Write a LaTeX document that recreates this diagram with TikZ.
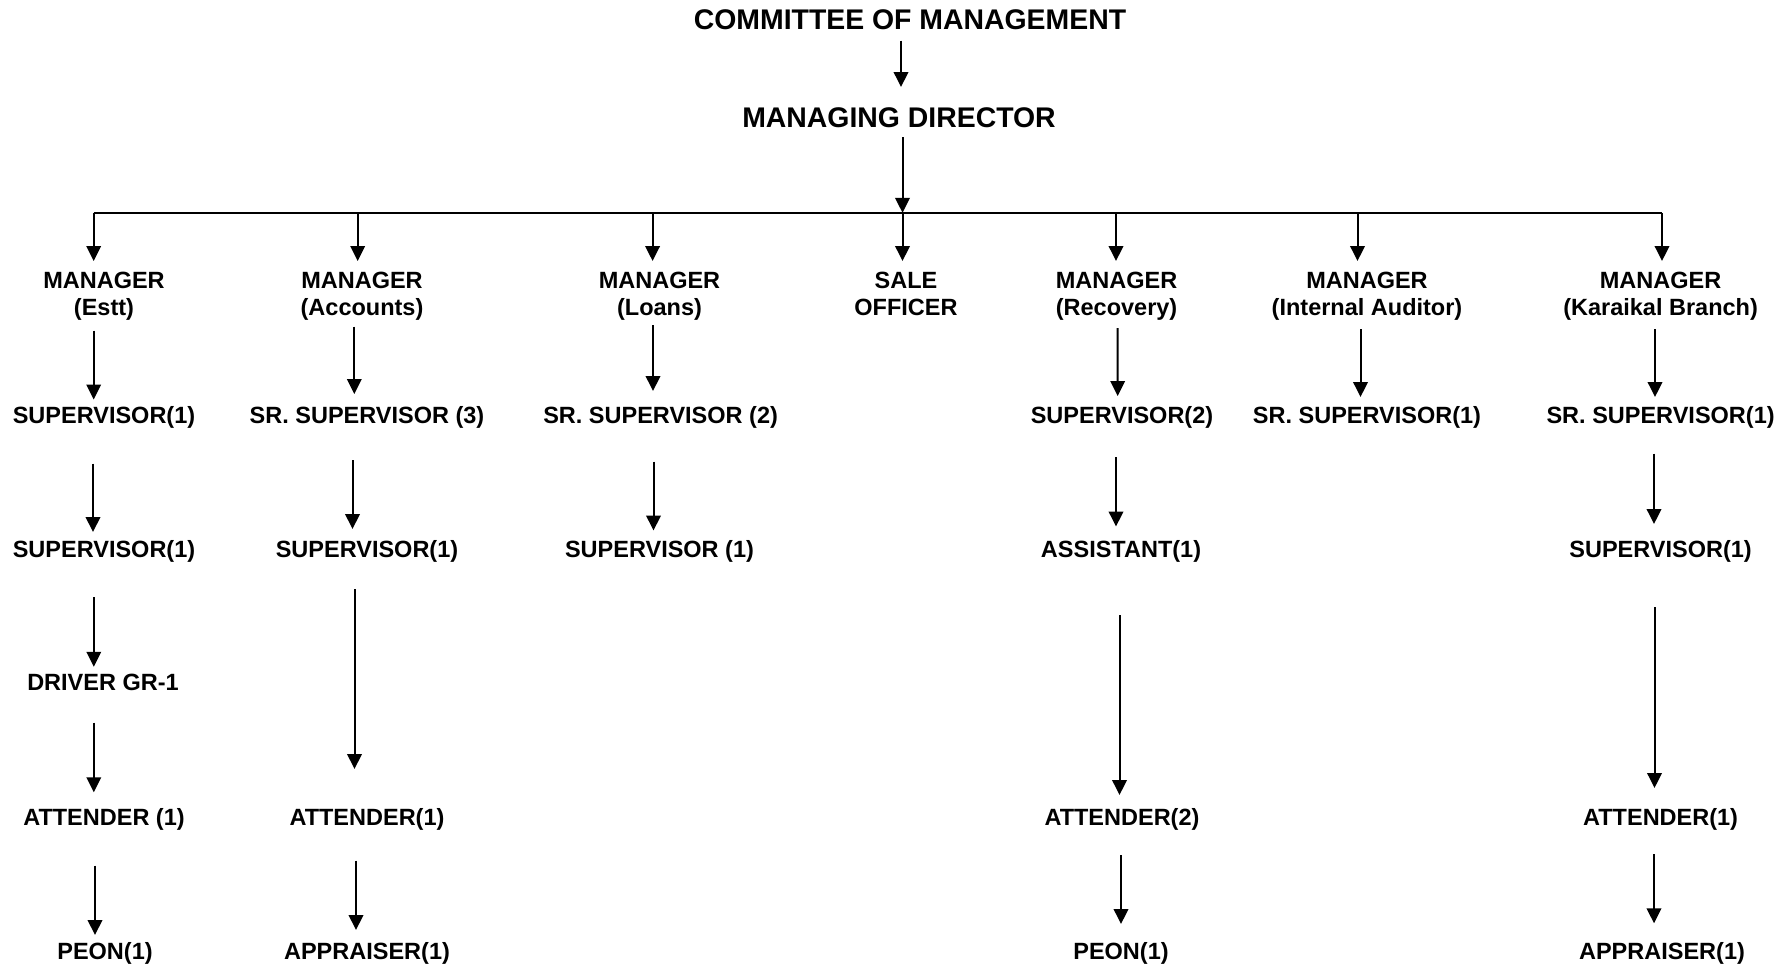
\documentclass[tikz,border=0pt]{standalone}
\usepackage{fontspec}
\setmainfont{Liberation Sans}
\usetikzlibrary{arrows.meta,calc}
\tikzset{
  lbl/.style={inner sep=0pt, outer sep=0pt, font=\fontsize{23.5}{27.4}\selectfont\bfseries, anchor=base},
  mgr/.style={lbl, align=center, anchor=south},
  ttl/.style={inner sep=0pt, outer sep=0pt, font=\fontsize{28.4}{34}\selectfont\bfseries, anchor=base},
  arr/.style={line width=2pt, -{Triangle[length=15pt,width=14.5pt]}},
  barline/.style={line width=2.2pt},
}
\begin{document}
\begin{tikzpicture}[x=1pt,y=-1pt]
\path[fill=white] (0,0) rectangle (1792,967);
\useasboundingbox (0,0) rectangle (1792,967);

% top
\node[ttl] (t) at (910,29.6) {COMMITTEE OF MANAGEMENT};
\node[ttl] (md) at (899,127.9) {MANAGING DIRECTOR};

% managers
\node[mgr] (m1) at (104,320.7) {MANAGER\\(Estt)};
\node[mgr] (m2) at (362,320.7) {MANAGER\\(Accounts)};
\node[mgr] (m3) at (659.5,320.7) {MANAGER\\(Loans)};
\node[mgr] (m4) at (906,315.8) {SALE\\OFFICER};
\node[mgr] (m5) at (1116.6,320.7) {MANAGER\\(Recovery)};
\node[mgr] (m6) at (1367,320.7) {MANAGER\\(Internal Auditor)};
\node[mgr] (m7) at (1660.6,320.7) {MANAGER\\(Karaikal Branch)};

% level 3
\node[lbl] (s1) at (104,423.3) {SUPERVISOR(1)};
\node[lbl] (s2) at (367,423.3) {SR. SUPERVISOR (3)};
\node[lbl] (s3) at (660.6,423.3) {SR. SUPERVISOR (2)};
\node[lbl] (s5) at (1122,423.3) {SUPERVISOR(2)};
\node[lbl] (s6) at (1367,423.3) {SR. SUPERVISOR(1)};
\node[lbl] (s7) at (1660.6,423.3) {SR. SUPERVISOR(1)};

% level 4
\node[lbl] (u1) at (104,557) {SUPERVISOR(1)};
\node[lbl] (u2) at (367,557) {SUPERVISOR(1)};
\node[lbl] (u3) at (659.5,557) {SUPERVISOR (1)};
\node[lbl] (u5) at (1121,557) {ASSISTANT(1)};
\node[lbl] (u7) at (1660.6,557) {SUPERVISOR(1)};

% level 5
\node[lbl] (d1) at (103,690.8) {DRIVER GR-1};

% level 6
\node[lbl] (a1) at (104,825.6) {ATTENDER (1)};
\node[lbl] (a2) at (367,825.6) {ATTENDER(1)};
\node[lbl] (a5) at (1122,825.6) {ATTENDER(2)};
\node[lbl] (a7) at (1660.6,825.6) {ATTENDER(1)};

% level 7
\node[lbl] (p1) at (105,959.3) {PEON(1)};
\node[lbl] (p2) at (367,959.3) {APPRAISER(1)};
\node[lbl] (p5) at (1121,959.3) {PEON(1)};
\node[lbl] (p7) at (1662,959.3) {APPRAISER(1)};

% bar junctions
\coordinate (j1) at (93.7,212.8);
\coordinate (j2) at (357.7,212.8);
\coordinate (j3) at (652.6,212.8);
\coordinate (j4) at (902.5,212.8);
\coordinate (j5) at (1116,212.8);
\coordinate (j6) at (1357.5,212.8);
\coordinate (j7) at (1662,212.8);

% top arrows
\draw[arr] ($(t.base)+(-9,10.9)$) -- ($(md.base)+(2,-40.9)$);
\draw[arr] ($(md.base)+(3.5,9.4)$) -- (j4);
\draw[barline] (j1) -- (j7);

% drops to managers
\draw[arr] (j1) -- ($(m1.south)+(-10.3,-59.7)$);
\draw[arr] (j2) -- ($(m2.south)+(-4.3,-59.7)$);
\draw[arr] (j3) -- ($(m3.south)+(-6.9,-59.7)$);
\draw[arr] (j4) -- ($(m4.south)+(-3.5,-54.8)$);
\draw[arr] (j5) -- ($(m5.south)+(-0.6,-59.7)$);
\draw[arr] (j6) -- ($(m6.south)+(-9.5,-59.7)$);
\draw[arr] (j7) -- ($(m7.south)+(1.4,-59.7)$);

% managers -> level 3
\draw[arr] ($(m1.south)+(-10.3,9.8)$) -- ($(s1.base)+(-10.3,-23.8)$);
\draw[arr] ($(m2.south)+(-7.7,5.8)$) -- ($(s2.base)+(-12.7,-29.3)$);
\draw[arr] ($(m3.south)+(-6.5,4.3)$) -- ($(s3.base)+(-7.6,-32.3)$);
\draw[arr] ($(m5.south)+(1.1,7.3)$) -- ($(s5.base)+(-4.3,-27.3)$);
\draw[arr] ($(m6.south)+(-6.5,8.3)$) -- ($(s6.base)+(-6.5,-26.3)$);
\draw[arr] ($(m7.south)+(-5.6,8.3)$) -- ($(s7.base)+(-5.6,-26.3)$);

% level 3 -> level 4
\draw[arr] ($(s1.base)+(-11,40.2)$) -- ($(u1.base)+(-11,-25)$);
\draw[arr] ($(s2.base)+(-14.5,36.7)$) -- ($(u2.base)+(-14.5,-28)$);
\draw[arr] ($(s3.base)+(-7.1,38.2)$) -- ($(u3.base)+(-6,-26.5)$);
\draw[arr] ($(s5.base)+(-6,33.7)$) -- ($(u5.base)+(-5,-30.5)$);
\draw[arr] ($(s7.base)+(-6.6,30.2)$) -- ($(u7.base)+(-6.6,-33)$);

% Estt chain
\draw[arr] ($(u1.base)+(-10.2,40)$) -- ($(d1.base)+(-9.2,-24)$);
\draw[arr] ($(d1.base)+(-9.2,31.9)$) -- ($(a1.base)+(-10.2,-33.3)$);

% level 4 -> attender (long)
\draw[arr] ($(u2.base)+(-12.5,32.3)$) -- ($(a2.base)+(-12.5,-56.6)$);
\draw[arr] ($(u5.base)+(-1.5,58)$) -- ($(a5.base)+(-2.5,-30.6)$);
\draw[arr] ($(u7.base)+(-6.1,50.3)$) -- ($(a7.base)+(-6.1,-37.6)$);

% attender -> bottom
\draw[arr] ($(a1.base)+(-9,40.1)$) -- ($(p1.base)+(-10,-24.3)$);
\draw[arr] ($(a2.base)+(-11,35.1)$) -- ($(p2.base)+(-11,-29.3)$);
\draw[arr] ($(a5.base)+(-1,29.4)$) -- ($(p5.base)+(0,-35.3)$);
\draw[arr] ($(a7.base)+(-6.6,28.4)$) -- ($(p7.base)+(-8,-36)$);
\end{tikzpicture}
\end{document}
